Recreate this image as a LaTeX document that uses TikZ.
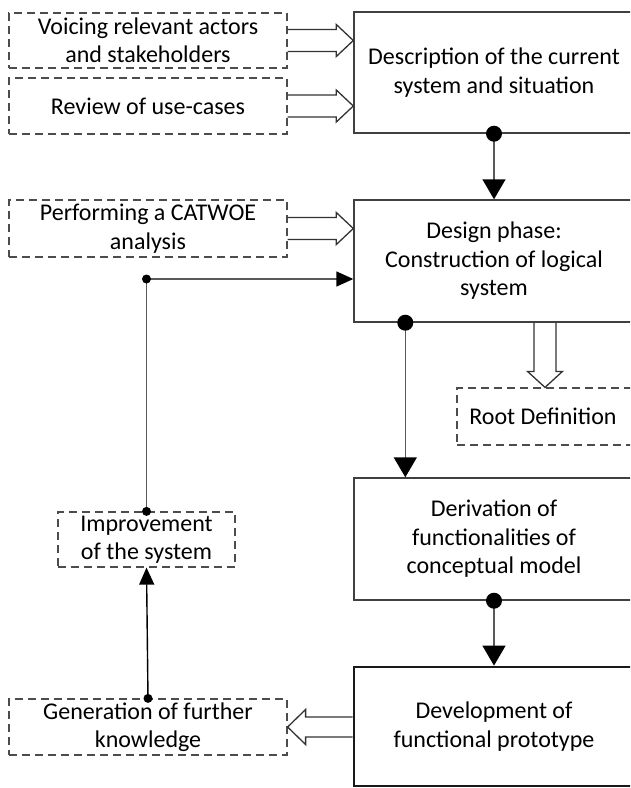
\documentclass[tikz,border=0pt]{standalone}
\usepackage{fontspec}
\setmainfont{Carlito}
\usetikzlibrary{arrows.meta,calc}
\newcommand{\fs}{\fontsize{24}{28.5}\selectfont}
\begin{document}
\begin{tikzpicture}[x=1pt,y=-1pt,
  box/.style={draw=black!75, line width=1.4pt, minimum width=280pt, minimum height=121pt, inner sep=0pt, align=center, font=\fs, fill=white},
  dbox/.style={draw=black!70, line width=1.2pt, dash pattern=on 8pt off 5pt, inner sep=0pt, align=center, font=\fs},
  conn/.style={draw=black!65, line width=1.4pt},
  harrow/.style={draw=black!80, line width=1.3pt},
  bighead/.style={-{Triangle[length=20pt,width=23pt,black]}},
  smallhead/.style={-{Triangle[length=17pt,width=15pt,black]}}]
\useasboundingbox (0,0) rectangle (630,788);
\clip (0,0) rectangle (630,788);

% dashed input boxes
\node[dbox, minimum width=278pt, minimum height=55pt] (voice) at (148,40.5) {Voicing relevant actors\\and stakeholders};
\node[dbox, minimum width=278pt, minimum height=56pt] (review) at (148,106) {Review of use-cases};
\node[dbox, minimum width=278pt, minimum height=57pt] (perf) at (148,228.5) {Performing a CATWOE\\analysis};
\node[dbox, minimum width=176pt, minimum height=57pt] (root) at (545,416.5) {\hspace*{-2pt}Root Definition\hspace*{2pt}};
\node[dbox, minimum width=177pt, minimum height=55pt] (impr) at (146.5,539.5) {Improvement\\of the system};
\node[dbox, minimum width=278pt, minimum height=56pt] (gen) at (148,727) {Generation of further\\knowledge};

% main boxes
\node[box] (desc) at (494,72.5) {Description of the current\\system and situation};
\node[box, minimum height=122pt] (design) at (494,261) {Design phase:\\Construction of logical\\system};
\node[box, minimum height=122pt] (deriv) at (494,539) {Derivation of\\functionalities of\\conceptual model};
\node[box, line width=2.8pt, draw=black!90, minimum height=119pt] (dev) at (494,726.5) {Development of\\functional prototype};

% hollow arrows (right)
\draw[harrow] let \p1=(voice.east), \p2=(desc.west) in
  (\x1,\y1+11pt) -- (\x2-17pt,\y1+11pt) -- (\x2-17pt,\y1+16pt) -- (\x2,\y1)
  -- (\x2-17pt,\y1-16pt) -- (\x2-17pt,\y1-11pt) -- (\x1,\y1-11pt);
\draw[harrow] let \p1=(review.east), \p2=(desc.west) in
  (\x1,\y1+11pt) -- (\x2-17pt,\y1+11pt) -- (\x2-17pt,\y1+16pt) -- (\x2,\y1)
  -- (\x2-17pt,\y1-16pt) -- (\x2-17pt,\y1-11pt) -- (\x1,\y1-11pt);
\draw[harrow] let \p1=(perf.east), \p2=(design.west) in
  (\x1,\y1+11pt) -- (\x2-17pt,\y1+11pt) -- (\x2-17pt,\y1+16pt) -- (\x2,\y1)
  -- (\x2-17pt,\y1-16pt) -- (\x2-17pt,\y1-11pt) -- (\x1,\y1-11pt);
% hollow arrow (left)
\draw[harrow] let \p1=(gen.east), \p2=(dev.west) in
  (\x2,\y1+10pt) -- (\x1+18pt,\y1+10pt) -- (\x1+18pt,\y1+17.5pt) -- (\x1,\y1)
  -- (\x1+18pt,\y1-17.5pt) -- (\x1+18pt,\y1-10pt) -- (\x2,\y1-10pt);
% hollow arrow (down)
\draw[harrow] let \p1=(root.north), \p2=(design.south) in
  (\x1-11pt,\y2) -- (\x1-11pt,\y1+16pt) -- (\x1-17.5pt,\y1+16pt) -- (\x1,\y1)
  -- (\x1+17.5pt,\y1+16pt) -- (\x1+11pt,\y1+16pt) -- (\x1+11pt,\y2);

% main flow arrows
\draw[conn, bighead] (desc.south) -- (design.north);
\fill (desc.south) circle (8pt);
\coordinate (ds) at ([xshift=52pt]design.south west);
\coordinate (dn) at ([xshift=52pt]deriv.north west);
\draw[conn, bighead] (ds) -- (dn);
\fill (ds) circle (8pt);
\draw[conn, bighead] (deriv.south) -- (dev.north);
\fill (deriv.south) circle (8pt);

% feedback loop
\coordinate (dw) at ([yshift=-18pt]design.west);
\coordinate (fbc) at (impr.north |- dw);
\draw[conn, smallhead] (impr.north) -- (fbc) -- (dw);
\fill (fbc) circle (4.5pt);
\fill (impr.north) circle (4.5pt);
\draw[conn, draw=black, smallhead] (gen.north) -- (impr.south);
\fill (gen.north) circle (4.5pt);
\end{tikzpicture}
\end{document}
